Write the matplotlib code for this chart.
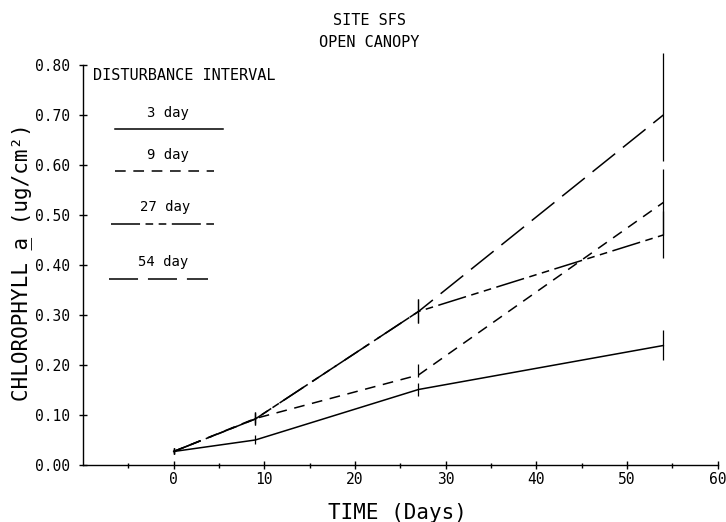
import matplotlib
matplotlib.use("Agg")
import matplotlib.pyplot as plt
from matplotlib.lines import Line2D

# ---- data ----
time = [0, 9, 27, 54]
labels = ["3 day", "9 day", "27 day", "54 day"]
d3 = [0.027, 0.050, 0.151, 0.239]
d9 = [0.027, 0.093, 0.180, 0.525]
d27 = [0.027, 0.092, 0.307, 0.460]
d54 = [0.027, 0.092, 0.307, 0.700]
err3_lo = [0.006, 0.009, 0.013, 0.030]
err3_hi = [0.006, 0.009, 0.013, 0.030]
err9_lo = [0.006, 0.010, 0.004, 0.066]
err9_hi = [0.006, 0.010, 0.022, 0.066]
err27_lo = [0.006, 0.013, 0.024, 0.047]
err27_hi = [0.006, 0.013, 0.024, 0.047]
err54_lo = [0.006, 0.013, 0.024, 0.093]
err54_hi = [0.006, 0.013, 0.024, 0.123]
xticks = [0, 10, 20, 30, 40, 50, 60]
yticks = [0.0, 0.1, 0.2, 0.3, 0.4, 0.5, 0.6, 0.7, 0.8]

plt.rcParams['font.family'] = ['DejaVu Sans Mono']

fig = plt.figure(figsize=(7.26, 5.22), dpi=100)
ax = fig.add_axes([0.1143, 0.1092, 0.9886 - 0.1143, 0.8755 - 0.1092])

styles = [
    dict(linestyle='-'),
    dict(linestyle=(0, (7, 5))),
    dict(linestyle=(0, (19, 3.6, 5, 3.6, 5, 3.6))),
    dict(linestyle=(0, (19, 6.5))),
]
series = [d3, d9, d27, d54]
errs = [(err3_lo, err3_hi), (err9_lo, err9_hi), (err27_lo, err27_hi), (err54_lo, err54_hi)]

for s, st, (lo, hi) in zip(series, styles, errs):
    ax.plot(time, s, color='black', lw=1.1, **st)
    eb = ax.errorbar(time, s, yerr=[lo, hi], fmt='none', ecolor='black',
                     elinewidth=0.9, capsize=0)
    for c in eb.lines[2]:
        c.set_clip_on(False)

ax.set_xlim(-10, 60)
ax.set_ylim(0, 0.80)
ax.set_xticks(xticks)
ax.set_xticklabels([str(t) for t in xticks])
ax.set_xticks([-5, 5, 15, 25, 35, 45, 55], minor=True)
ax.set_yticks(yticks)
ax.set_yticklabels([f"{v:.2f}" for v in yticks])
ax.spines['top'].set_visible(False)
ax.spines['right'].set_visible(False)
ax.spines['left'].set_linewidth(1.0)
ax.spines['bottom'].set_linewidth(1.0)
ax.tick_params(axis='both', which='major', direction='inout', length=6, width=1.0,
               labelsize=10.5)
ax.tick_params(axis='x', which='major', pad=2)
ax.tick_params(axis='y', which='major', pad=6)
ax.tick_params(axis='x', which='minor', direction='inout', length=3.6, width=1.0)

# legend (manual)
ax.text(0.016, 0.9725, "DISTURBANCE INTERVAL", transform=ax.transAxes,
        fontsize=11, ha='left', va='center')
leg_x = [(0.050, 0.221), (0.050, 0.206), (0.044, 0.210), (0.041, 0.197)]
leg_y = [0.84, 0.735, 0.6025, 0.465]
lab_x = [0.134, 0.134, 0.129, 0.126]
lab_y = [0.88, 0.775, 0.645, 0.5075]
for lab, st, (x0, x1), ly, tx, ty in zip(labels, styles, leg_x, leg_y, lab_x, lab_y):
    ax.add_line(Line2D([x0, x1], [ly, ly], transform=ax.transAxes,
                       color='black', lw=1.1, **st))
    ax.text(tx, ty, lab, transform=ax.transAxes, fontsize=10,
            ha='center', va='center')

fig.text(0.509, 0.96, "SITE SFS", ha='center', va='center', fontsize=11)
fig.text(0.509, 0.918, "OPEN CANOPY", ha='center', va='center', fontsize=11)
fig.text(0.548, 0.018, "TIME (Days)", ha='center', va='center', fontsize=15)

ylab = "CHLOROPHYLL a (ug/cm\u00b2)"
under = "".join("_" if i == ylab.index(" a ") + 1 else " " for i in range(len(ylab)))
fig.text(0.030, 0.498, ylab, ha='center', va='center', rotation=90, fontsize=15)
fig.text(0.030, 0.498, under, ha='center', va='center', rotation=90, fontsize=15)

fig.savefig("out.png", dpi=100)
